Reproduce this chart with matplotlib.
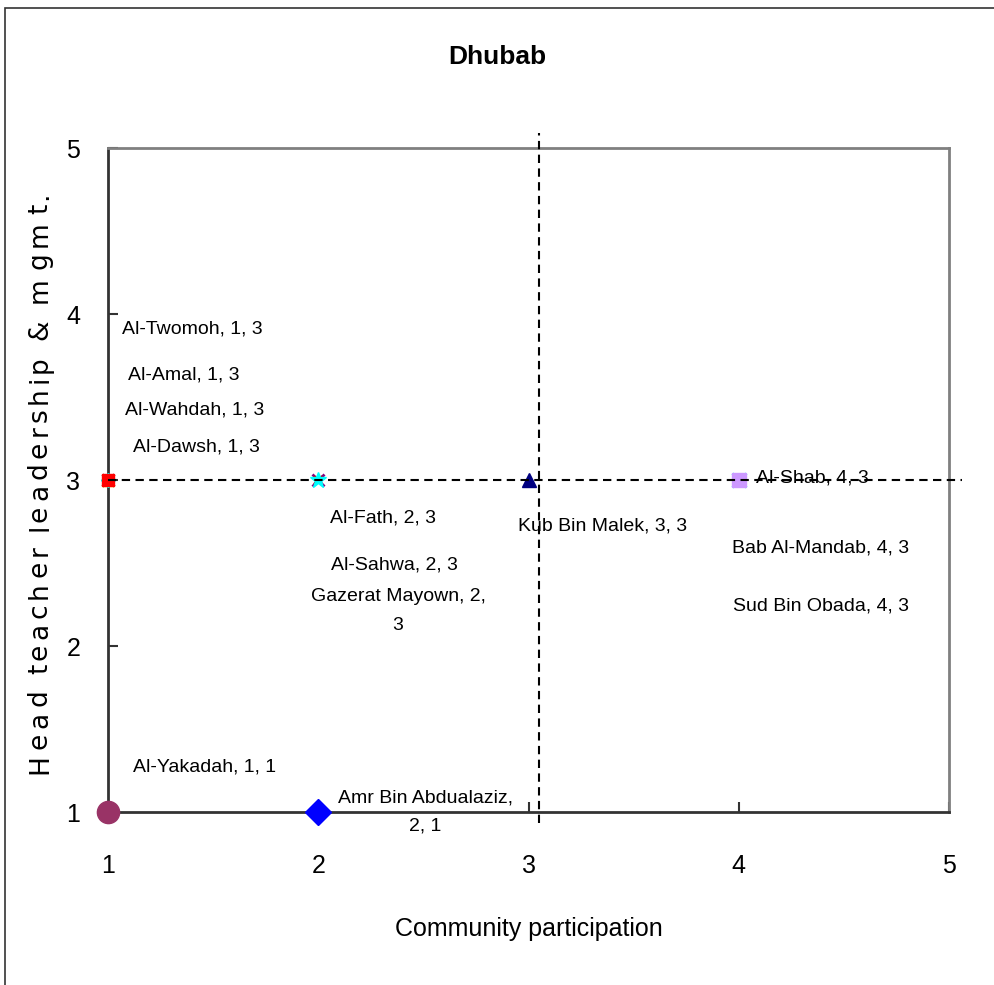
import textwrap
import matplotlib
matplotlib.use("Agg")
import matplotlib.pyplot as plt
from matplotlib.patches import Rectangle
from matplotlib.font_manager import FontProperties, findfont, get_font

# School scores: community participation (x) vs head teacher leadership (y)
schools = ["Al-Dawsh", "Al-Wahdah", "Al-Amal", "Al-Twomoh",
           "Gazerat Mayown", "Al-Fath", "Al-Sahwa",
           "Kub Bin Malek",
           "Sud Bin Obada", "Bab Al-Mandab", "Al-Shab",
           "Al-Yakadah", "Amr Bin Abdualaziz"]
community = [1, 1, 1, 1, 2, 2, 2, 3, 4, 4, 4, 1, 2]
leadership = [3, 3, 3, 3, 3, 3, 3, 3, 3, 3, 3, 1, 1]

# Reference lines (averages)
mean_community = 3.05
mean_leadership = 3.0

# Label anchor positions (data coordinates) and wrap widths
label_pos = [(1.42, 3.20), (1.41, 3.42), (1.36, 3.63), (1.40, 3.91),
             (2.38, 2.21), (2.31, 2.77), (2.36, 2.49),
             (3.35, 2.72),
             (4.39, 2.24), (4.39, 2.59), (4.35, 3.01),
             (1.46, 1.27), (2.51, 1.00)]
wrap_width = {"Gazerat Mayown": 18, "Amr Bin Abdualaziz": 19}

# Marker styles per series
styles = [
    dict(marker="^", color="#FFFF00", ms=9),
    dict(marker="D", color="#00FFFF", ms=7),
    dict(marker="x", color="#800000", ms=8, mew=2),
    dict(marker="s", color="#FF0000", ms=9),
    dict(marker="x", color="#800080", ms=9, mew=2),
    dict(marker="x", color="#C00000", ms=6, mew=1.5),
    dict(marker="*", color="#00FFFF", ms=12),
    dict(marker="^", color="#000080", ms=10),
    dict(marker="x", color="#00FFFF", ms=10, mew=2),
    dict(marker="x", color="#FF00FF", ms=9, mew=2),
    dict(marker="s", color="#CC99FF", ms=10),
    dict(marker="o", color="#993366", ms=16),
    dict(marker="D", color="#0000FF", ms=13),
]

plt.rcParams["font.family"] = ["Liberation Sans", "DejaVu Sans"]

W, H = 994, 985
fig = plt.figure(figsize=(W / 100, H / 100), dpi=100)
fig.patches.append(Rectangle((5 / W, -0.05), 1.2, 1 - 8 / H + 0.05,
                             transform=fig.transFigure, fill=False,
                             edgecolor="#333333", linewidth=1.2))

ax = fig.add_axes([108 / W, 1 - 812 / H, (949 - 108) / W, (812 - 148) / H])

for name, x, y, st, (lx, ly) in zip(schools, community, leadership, styles, label_pos):
    st = dict(st)
    ax.plot([x], [y], linestyle="none", marker=st.pop("marker"),
            color=st.pop("color"), markersize=st.pop("ms"),
            markeredgewidth=st.pop("mew", 1), clip_on=False, zorder=4, **st)
    text = f"{name}, {x}, {y}"
    if name in wrap_width:
        text = textwrap.fill(text, wrap_width[name])
    ax.text(lx, ly, text, ha="center", va="center", fontsize=14,
            linespacing=1.9, zorder=3)

ax.plot([1, 5.062], [mean_leadership, mean_leadership], color="black",
        linestyle=(0, (4, 2.6)), linewidth=1.5, clip_on=False, zorder=5)
ax.plot([mean_community, mean_community], [0.934, 5.09], color="black",
        linestyle=(0, (4, 2.6)), linewidth=1.5, clip_on=False, zorder=5)

ax.set_xlim(1, 5)
ax.set_ylim(1, 5)
ax.set_xticks([1, 2, 3, 4, 5])
ax.set_yticks([1, 2, 3, 4, 5])
ax.tick_params(direction="in", length=7, width=1.5, color="#333333",
               labelsize=18)
ax.tick_params(axis="x", pad=30)
ax.tick_params(axis="y", pad=20)

for side in ("left", "bottom"):
    ax.spines[side].set_color("#333333")
    ax.spines[side].set_linewidth(2)
for side in ("top", "right"):
    ax.spines[side].set_color("#808080")
    ax.spines[side].set_linewidth(2)

ax.set_xlabel("Community participation", fontsize=18, labelpad=28)

# Vertical axis title, spread along the axis
ylabel = "Head teacher leadership & mgmt."
ylabel_size = 19
ylabel_family = "DejaVu Sans"
fp = FontProperties(family=[ylabel_family], size=ylabel_size)
ft = get_font(findfont(fp))
ft.set_size(ylabel_size, 100)
advances = [ft.load_char(ord(c)).linearHoriAdvance / 65536 for c in ylabel]
span_px = 585.0
scale = span_px / sum(advances)
start_px = 482 + span_px / 2  # bottom end, in pixels from top
baseline_x = 47
pos = 0.0
for c, adv in zip(ylabel, advances):
    ypix = start_px - pos * scale
    fig.text(baseline_x / W, 1 - ypix / H, c, rotation=90,
             rotation_mode="anchor", ha="left", va="baseline",
             fontsize=ylabel_size, family=ylabel_family)
    pos += adv

fig.text(0.5, 1 - 57 / H, "Dhubab", ha="center", va="center",
         fontsize=19, fontweight="bold")

fig.savefig("out.png", dpi=100)
